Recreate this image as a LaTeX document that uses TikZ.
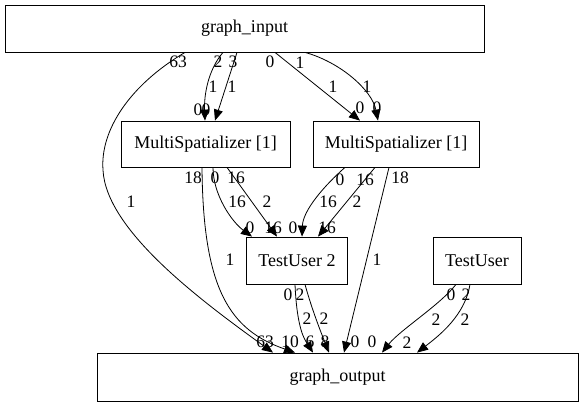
\documentclass[tikz,border=0pt]{standalone}
\usepackage{fontspec}
\setmainfont{Liberation Serif}
\usetikzlibrary{arrows.meta}
\begin{document}
\begin{tikzpicture}[x=1pt,y=-1pt,
  box/.style={draw, line width=0.8pt, inner sep=0pt, font=\fontsize{18}{20}\selectfont},
  lbl/.style={inner sep=0pt, font=\fontsize{17.5}{20}\selectfont},
  conn/.style={line width=0.8pt, -{Triangle[length=11pt,width=9pt]}}]
\useasboundingbox (0,0) rectangle (583,407);
% nodes
\node[box, minimum width=479pt, minimum height=47pt] (gi) at (244.5,28.5) {graph\_input};
\node[box, minimum width=169pt, minimum height=46pt] (ms1) at (205.5,144) {MultiSpatializer [1]};
\node[box, minimum width=166pt, minimum height=46pt] (ms2) at (396,144) {MultiSpatializer [1]};
\node[box, minimum width=101pt, minimum height=47pt] (tu2) at (297,260.5) {TestUser 2};
\node[box, minimum width=88pt, minimum height=47pt] (tu) at (477,260.5) {TestUser};
\node[box, minimum width=481pt, minimum height=48pt] (go) at (337.5,377) {graph\_output};
% edges from graph_input
\draw[conn] ([xshift=-21.5pt]gi.south) .. controls (208,70) and (204,95) .. ([xshift=-0.5pt]ms1.north);
\draw[conn] ([xshift=-7.5pt]gi.south) -- ([xshift=9.5pt]ms1.north);
\draw[conn] ([xshift=30.5pt]gi.south) -- ([xshift=-36pt]ms2.north);
\draw[conn] ([xshift=60.5pt]gi.south) .. controls (340,62) and (372,90) .. ([xshift=-18pt]ms2.north);
\draw[conn] ([xshift=-59.5pt]gi.south) .. controls (130,85) and (100,130) .. (103,170)
   .. controls (106,230) and (200,300) .. ([xshift=-64.5pt]go.north);
% edges from ms1
\draw[conn] ([xshift=7.5pt]ms1.south) .. controls (213,195) and (232,222) .. ([xshift=-45pt]tu2.north);
\draw[conn] ([xshift=21.5pt]ms1.south) -- ([xshift=-20pt]tu2.north);
\draw[conn] ([xshift=-3.5pt]ms1.south) .. controls (203,290) and (230,330) .. ([xshift=-42.5pt]go.north);
% edges from ms2
\draw[conn] ([xshift=-51pt]ms2.south) .. controls (325,185) and (303,210) .. ([xshift=5pt]tu2.north);
\draw[conn] ([xshift=-21pt]ms2.south) -- ([xshift=21pt]tu2.north);
\draw[conn] ([xshift=-7pt]ms2.south) -- ([xshift=6.5pt]go.north);
% edges from tu2
\draw[conn] ([xshift=-2pt]tu2.south) .. controls (297,330) and (305,340) .. ([xshift=-24.5pt]go.north);
\draw[conn] ([xshift=8pt]tu2.south) .. controls (312,310) and (322,335) .. ([xshift=-8.5pt]go.north);
% edges from tu
\draw[conn] ([xshift=-21pt]tu.south) .. controls (440,305) and (400,330) .. ([xshift=44.5pt]go.north);
\draw[conn] ([xshift=-7pt]tu.south) .. controls (465,315) and (440,335) .. ([xshift=79.5pt]go.north);
% labels: graph_input tails
\node[lbl] (t1) at (178,62) {63};
\node[lbl] (t2) at (218,62) {2};
\node[lbl] (t3) at (233,62) {3};
\node[lbl] (t4) at (270,62) {0};
\node[lbl] (t5) at (300,63) {1};
% middle labels top
\node[lbl] (m1) at (213,87) {1};
\node[lbl] (m2) at (232,87) {1};
\node[lbl] (m3) at (333,87) {1};
\node[lbl] (m4) at (367,87) {1};
\node[lbl] (m5) at (131,202) {1};
% head labels at ms1, ms2
\node[lbl] (h1) at (198,110) {0};
\node[lbl] (h2) at (206,110) {0};
\node[lbl] (h3) at (360,108) {0};
\node[lbl] (h4) at (377,108) {0};
% ms1 tails
\node[lbl] (t6) at (193,178) {18};
\node[lbl] (t7) at (215,178) {0};
\node[lbl] (t8) at (236,178) {16};
\node[lbl] (m6) at (237,202) {16};
\node[lbl] (m7) at (267,202) {2};
\node[lbl] (m8) at (230,260) {1};
\node[lbl] (h5) at (250,228) {0};
\node[lbl] (h6) at (273,228) {16};
% ms2 tails
\node[lbl] (t9) at (340,180) {0};
\node[lbl] (t10) at (365,180) {16};
\node[lbl] (t11) at (400,178) {18};
\node[lbl] (m9) at (328,202) {16};
\node[lbl] (m10) at (357,202) {2};
\node[lbl] (m11) at (377,260) {1};
\node[lbl] (h7) at (293,228) {0};
\node[lbl] (h8) at (327,228) {16};
% tu2 tails
\node[lbl] (t12) at (288,295) {0};
\node[lbl] (t13) at (300,295) {2};
\node[lbl] (m12) at (307,319) {2};
\node[lbl] (m13) at (324,319) {2};
% tu tails
\node[lbl] (t14) at (451,295) {0};
\node[lbl] (t15) at (466,295) {2};
\node[lbl] (m14) at (436,320) {2};
\node[lbl] (m15) at (465,320) {2};
% heads at graph_output
\node[lbl] (h9) at (265,342) {63};
\node[lbl] (h10) at (290,342) {10};
\node[lbl] (h11) at (310,342) {6};
\node[lbl] (h12) at (325,342) {8};
\node[lbl] (h13) at (355,342) {0};
\node[lbl] (h14) at (372,342) {0};
\node[lbl] (h15) at (407,343) {2};
\end{tikzpicture}
\end{document}
